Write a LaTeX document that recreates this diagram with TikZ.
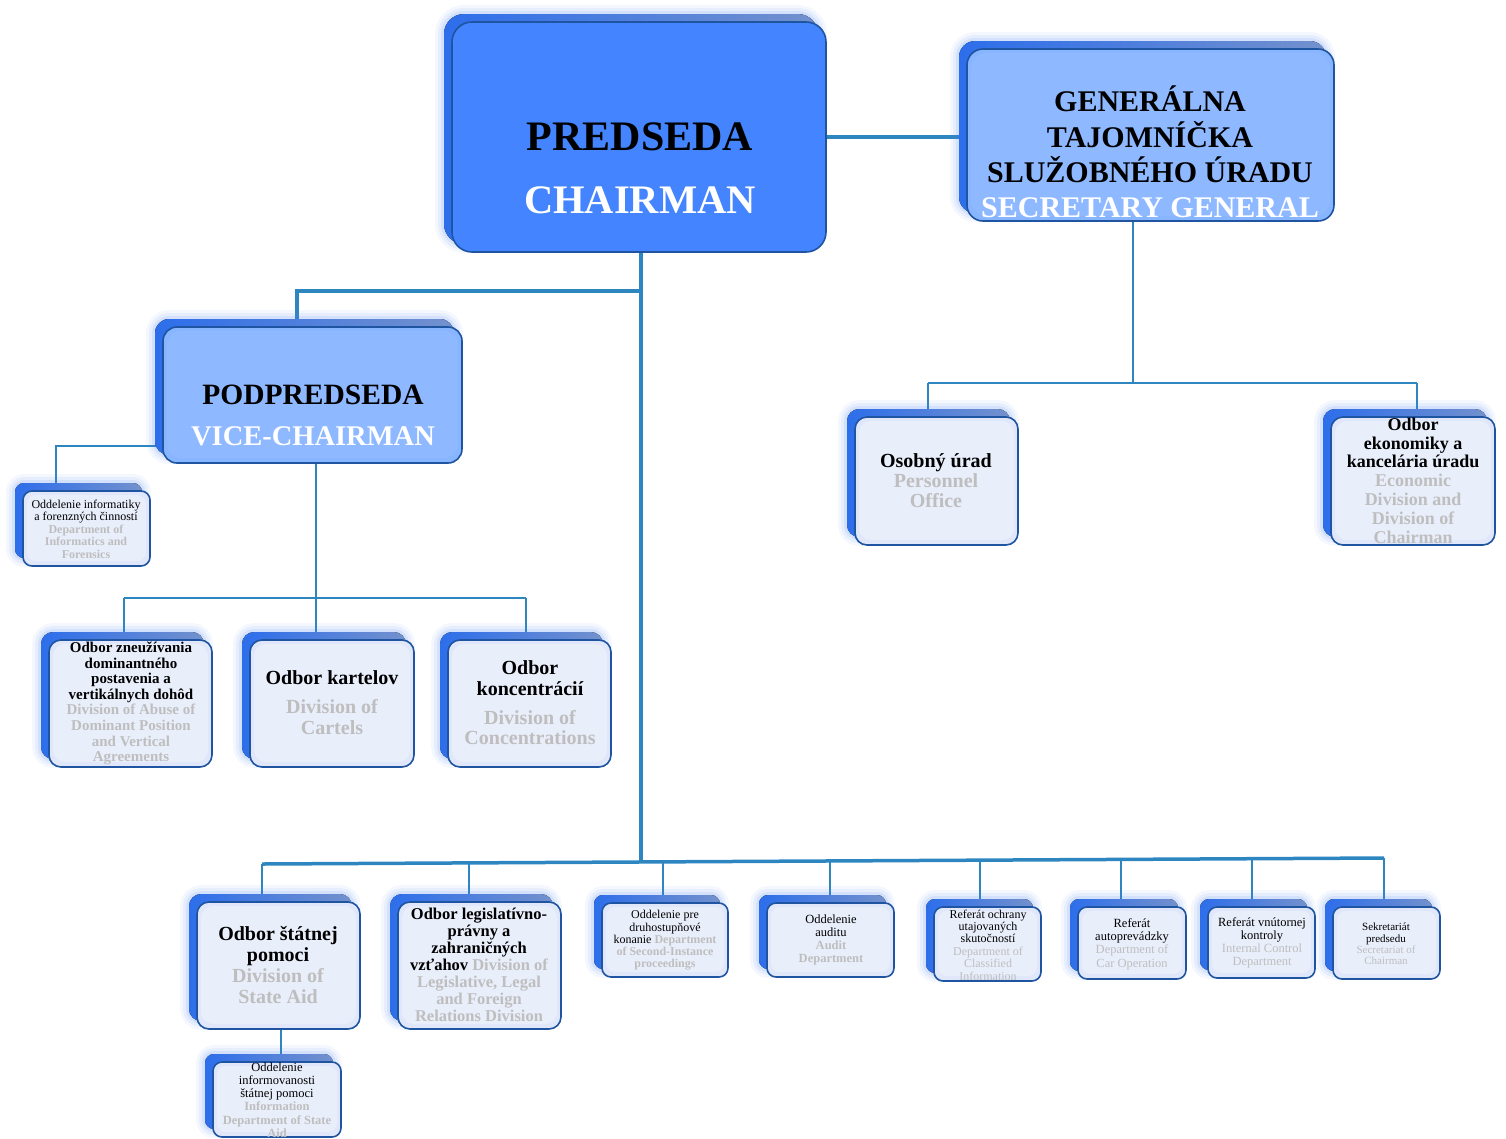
\documentclass[tikz,border=0pt]{standalone}
\usepackage{fontspec}
\setmainfont{Liberation Serif}
\usetikzlibrary{calc}
\pgfdeclarelayer{bg}
\pgfsetlayers{bg,main}
\definecolor{conn}{RGB}{46,134,193}
\definecolor{bordc}{RGB}{30,84,160}
\definecolor{pale}{RGB}{224,231,250}
\definecolor{gtxt}{RGB}{190,190,190}
\definecolor{chairc}{RGB}{68,133,255}
\definecolor{secc}{RGB}{136,181,255}
\definecolor{backA}{RGB}{45,110,235}
\definecolor{backB}{RGB}{115,145,205}
\definecolor{glowc}{RGB}{70,130,245}
\tikzset{
  fbox/.style={draw=bordc, line width=1.6pt, inner sep=0pt},
  thickc/.style={draw=conn, line width=3.5pt},
  thinc/.style={draw=conn, line width=1.6pt},
  t/.style={align=center, inner sep=0pt, text=black},
}
\newcommand\gt[1]{\textcolor{gtxt}{\bfseries #1}}
\newcommand\gr[1]{\textcolor{gtxt}{#1}}
% name x1 y1 x2 y2 fill radius overlay-opacity
\newcommand\OrgBox[8]{%
  \foreach \w/\o in {18/0.06,12/0.08,6/0.12}{\draw[line width=\w pt, draw=glowc, opacity=\o, rounded corners=#7 pt] (#2-8,#3-8) rectangle (#4-8,#5-8);}
  \fill[rounded corners=#7 pt, left color=backA, right color=backB] (#2-8,#3-8) rectangle (#4-8,#5-8);
  \node[fbox, fill=#6, rounded corners=#7 pt, minimum width={(#4-#2)*1pt}, minimum height={(#5-#3)*1pt}] (#1) at ({(#2+#4)/2},{(#3+#5)/2}) {};
  \fill[white, opacity=#8, rounded corners=#7 pt] (#2+4,#3+4) rectangle (#4-4,#5-5);
}
\begin{document}
\begin{tikzpicture}[x=1pt,y=-1pt]
\useasboundingbox (0,0) rectangle (1506,1138);
% boxes
\OrgBox{chair}{452}{22}{826}{252}{chairc}{20}{0}
\OrgBox{sec}{967}{49}{1334}{221}{secc}{16}{0.05}
\OrgBox{vice}{163}{327}{462}{463}{secc}{14}{0.05}
\OrgBox{info}{23}{491}{150}{566}{pale}{9}{0.3}
\OrgBox{abuse}{49}{640}{212}{767}{pale}{12}{0.3}
\OrgBox{cart}{250}{640}{414}{767}{pale}{12}{0.3}
\OrgBox{conc}{448}{640}{611}{767}{pale}{12}{0.3}
\OrgBox{pers}{855}{417}{1018}{545}{pale}{12}{0.3}
\OrgBox{econ}{1331}{417}{1495}{545}{pale}{12}{0.3}
\OrgBox{sa}{197}{902}{360}{1029}{pale}{12}{0.3}
\OrgBox{leg}{398}{902}{561}{1029}{pale}{12}{0.3}
\OrgBox{sectwo}{602}{903}{728}{977}{pale}{9}{0.3}
\OrgBox{aud}{767}{903}{894}{977}{pale}{9}{0.3}
\OrgBox{cls}{934}{907}{1041}{981}{pale}{9}{0.3}
\OrgBox{car}{1078}{907}{1186}{979}{pale}{9}{0.3}
\OrgBox{ictl}{1208}{907}{1315}{978}{pale}{9}{0.3}
\OrgBox{secr}{1333}{907}{1440}{979}{pale}{9}{0.3}
\OrgBox{infsa}{213}{1062}{341}{1137}{pale}{9}{0.3}
% texts
\node[t, font=\fontsize{42}{63}\selectfont\bfseries] (chair-t) at (640,168.5) {PREDSEDA\\\textcolor{white}{\fontsize{40.5}{63}\selectfont CHAIRMAN}};
\node[t, font=\fontsize{30}{35.3}\selectfont\bfseries] (sec-t) at (1150,152) {GENERÁLNA\\TAJOMNÍČKA\\SLUŽOBNÉHO ÚRADU\\\textcolor{white}{SECRETARY GENERAL}};
\node[t, font=\fontsize{29.5}{41}\selectfont\bfseries] (vice-t) at (313,415.5) {PODPREDSEDA\\\textcolor{white}{\fontsize{28.5}{41}\selectfont VICE-CHAIRMAN}};
\node[t, font=\fontsize{12}{12.5}\selectfont] (info-t) at (86,529) {Oddelenie informatiky\\a forenzných činností\\\gt{Department of}\\\gt{Informatics and}\\\gt{Forensics}};
\node[t, font=\fontsize{15}{15.6}\selectfont\bfseries] (abuse-t) at (131,703.5) {Odbor zneužívania\\dominantného\\postavenia a\\vertikálnych dohôd\\\gt{Division of Abuse of}\\\gt{Dominant Position}\\\gt{and Vertical}\\\gt{Agreements}};
\node[t, font=\fontsize{20}{20.5}\selectfont\bfseries] (cart-t) at (332,702.5) {Odbor kartelov\\[8.5pt]\gt{Division of}\\\gt{Cartels}};
\node[t, font=\fontsize{20}{20.5}\selectfont\bfseries] (conc-t) at (530,703) {Odbor\\koncentrácií\\[8.5pt]\gt{Division of}\\\gt{Concentrations}};
\node[t, font=\fontsize{20}{20}\selectfont\bfseries] (pers-t) at (936,481) {Osobný úrad\\\gt{Personnel}\\\gt{Office}};
\node[t, font=\fontsize{18}{18.8}\selectfont\bfseries] (econ-t) at (1413,480.5) {Odbor\\ekonomiky a\\kancelária úradu\\\gt{Economic}\\\gt{Division and}\\\gt{Division of}\\\gt{Chairman}};
\node[t, font=\fontsize{20}{20.7}\selectfont\bfseries] (sa-t) at (278,965) {Odbor štátnej\\pomoci\\\gt{Division of}\\\gt{State Aid}};
\node[t, font=\fontsize{16.5}{17}\selectfont\bfseries] (leg-t) at (479,965) {Odbor legislatívno-\\právny a\\zahraničných\\vzťahov \gt{Division of}\\\gt{Legislative, Legal}\\\gt{and Foreign}\\\gt{Relations Division}};
\node[t, font=\fontsize{12}{12.2}\selectfont] (sectwo-t) at (665,940.5) {Oddelenie pre\\druhostupňové\\konanie \gt{Department}\\\gt{of Second-Instance}\\\gt{proceedings}};
\node[t, font=\fontsize{12.5}{13}\selectfont] (aud-t) at (831,939.5) {Oddelenie\\auditu\\\gt{Audit}\\\gt{Department}};
\node[t, font=\fontsize{12}{12.4}\selectfont] (cls-t) at (988,945) {Referát ochrany\\utajovaných\\skutočností\\\gr{Department of}\\\gr{Classified}\\\gr{Information}};
\node[t, font=\fontsize{12.5}{13.3}\selectfont] (car-t) at (1132,944) {Referát\\autoprevádzky\\\gr{Department of}\\\gr{Car Operation}};
\node[t, font=\fontsize{12.5}{13}\selectfont] (ictl-t) at (1262,942.5) {Referát vnútornej\\kontroly\\\gr{Internal Control}\\\gr{Department}};
\node[t, font=\fontsize{11}{11.3}\selectfont] (secr-t) at (1386,944) {Sekretariát\\predsedu\\\gr{Secretariat of}\\\gr{Chairman}};
\node[t, font=\fontsize{12.5}{13.3}\selectfont] (infsa-t) at (277,1100) {Oddelenie\\informovanosti\\štátnej pomoci\\\gt{Information}\\\gt{Department of State}\\\gt{Aid}};
% connectors
\begin{pgfonlayer}{bg}
\draw[thickc] (chair.east) -- (chair.east -| sec.west);
\coordinate (cv) at (641,291);
\coordinate (busM) at (641,862);
\draw[thickc] (chair.south -| cv) -- (busM);
\coordinate (vj) at (297,291);
\draw[thickc] (cv) -- (vj) -- (vj |- vice.north);
\coordinate (bL) at (262,864);
\coordinate (bR) at (1384,858);
\draw[thickc] (bL) -- (bR);
\coordinate (d2) at (469,862.9);
\coordinate (d3) at (663,861.9);
\coordinate (d4) at (830,861.0);
\coordinate (d5) at (980,860.2);
\coordinate (d6) at (1121,859.4);
\coordinate (d7) at (1252,858.7);
\draw[thinc] (bL) -- (bL |- sa.north);
\draw[thinc] (d2) -- (d2 |- leg.north);
\draw[thinc] (d3) -- (d3 |- sectwo.north);
\draw[thinc] (d4) -- (d4 |- aud.north);
\draw[thinc] (d5) -- (d5 |- cls.north);
\draw[thinc] (d6) -- (d6 |- car.north);
\draw[thinc] (d7) -- (d7 |- ictl.north);
\draw[thinc] (bR) -- (bR |- secr.north);
\coordinate (vb) at (316,598);
\coordinate (vbl) at (124,598);
\coordinate (vbr) at (526,598);
\draw[thinc] (vice.south -| vb) -- (vb);
\draw[thinc] (vbl) -- (vbr);
\draw[thinc] (vbl) -- (vbl |- abuse.north);
\draw[thinc] (vb) -- (vb |- cart.north);
\draw[thinc] (vbr) -- (vbr |- conc.north);
\coordinate (vl) at (56,446);
\draw[thinc] (vice.west |- vl) -- (vl) -- (vl |- info.north);
\coordinate (sb) at (1133,383);
\coordinate (sbl) at (928,383);
\coordinate (sbr) at (1417,383);
\draw[thinc] (sec.south -| sb) -- (sb);
\draw[thinc] (sbl) -- (sbr);
\draw[thinc] (sbl) -- (sbl |- pers.north);
\draw[thinc] (sbr) -- (sbr |- econ.north);
\coordinate (sad) at (281,1040);
\draw[thinc] (sa.south -| sad) -- (sad |- infsa.north);
\end{pgfonlayer}
\end{tikzpicture}
\end{document}
